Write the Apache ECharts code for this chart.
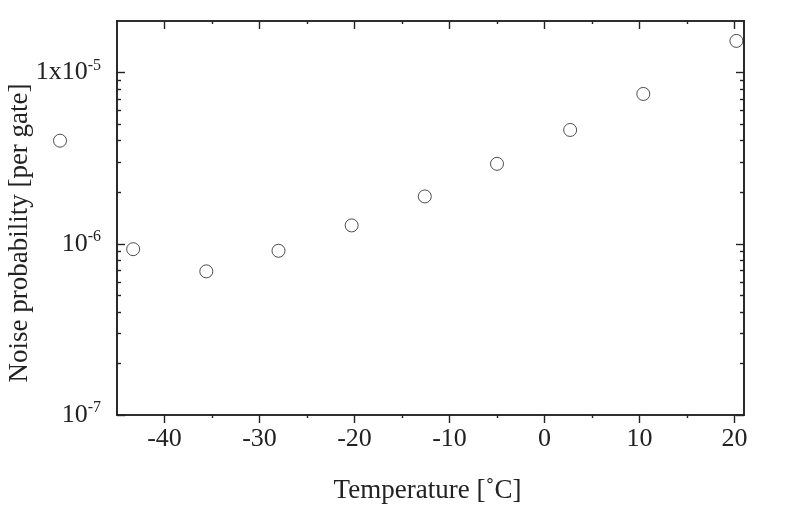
<!DOCTYPE html>
<html>
<head>
<meta charset="utf-8">
<script src="https://cdn.jsdelivr.net/npm/echarts@6/dist/echarts.min.js"></script>
<style>
  html, body { margin: 0; padding: 0; background: #fff; }
  #chart { width: 789px; height: 512px; }
</style>
</head>
<body>
<div id="chart"></div>
<script>
  // measured points: temperature [°C] and noise probability [per gate]
  const temperature = [-51, -43.3, -35.6, -28, -20.3, -12.6, -5, 2.7, 10.4, 20.2];
  const noiseProb = [4.0e-6, 9.3e-7, 6.9e-7, 9.1e-7, 1.28e-6, 1.89e-6, 2.93e-6, 4.62e-6, 7.5e-6, 1.53e-5];

  const xMajorTicks = [-40, -30, -20, -10, 0, 10, 20];
  const xMinorTicks = [-35, -25, -15, -5, 5, 15];
  const yMajorTicks = [1e-7, 1e-6, 1e-5];
  const yTickLabels = ['{b|10}{sup|-7}', '{b|10}{sup|-6}', '{b|1x10}{sup|-5}'];
  const yMinorTicks = [2e-7, 3e-7, 4e-7, 5e-7, 6e-7, 7e-7, 8e-7, 9e-7,
    2e-6, 3e-6, 4e-6, 5e-6, 6e-6, 7e-6, 8e-6, 9e-6];

  const font = 'Liberation Serif';
  const ink = '#222';

  function xAxisOf(position, ticks, len, inside, withLabels) {
    return {
      type: 'value', position: position, min: -45, max: 21,
      axisLine: { show: true, onZero: false, lineStyle: { color: ink, width: 1.6 } },
      axisTick: { show: true, customValues: ticks, length: len, inside: inside, lineStyle: { color: ink, width: 1.4 } },
      axisLabel: withLabels ? { show: true, customValues: ticks, margin: 11, color: ink, fontFamily: font, fontSize: 26 } : { show: false },
      splitLine: { show: false }
    };
  }
  function yAxisOf(position, ticks, len, withLabels) {
    return {
      type: 'log', logBase: 10, position: position, min: 1e-7, max: 2e-5,
      axisLine: { show: true, onZero: false, lineStyle: { color: ink, width: 1.6 } },
      axisTick: { show: true, customValues: ticks, length: len, inside: true, lineStyle: { color: ink, width: 1.4 } },
      axisLabel: withLabels ? {
        show: true, customValues: ticks, margin: 16, color: ink,
        formatter: function (v) {
          const i = yMajorTicks.findIndex(t => Math.abs(Math.log10(t) - Math.log10(v)) < 1e-6);
          return i >= 0 ? yTickLabels[i] : '';
        },
        rich: {
          b: { fontFamily: font, fontSize: 26, color: ink },
          sup: { fontFamily: font, fontSize: 16, color: ink, padding: [0, 0, 14, 0] }
        }
      } : { show: false },
      splitLine: { show: false }
    };
  }

  const xAxes = [
    xAxisOf('bottom', xMajorTicks, 8, false, true),
    xAxisOf('bottom', xMinorTicks, 3, false, false),
    xAxisOf('top', xMajorTicks, 8, true, false),
    xAxisOf('top', xMinorTicks, 3, true, false)
  ];
  xAxes[0].name = 'Temperature [˚C]';
  xAxes[0].nameLocation = 'middle';
  xAxes[0].nameGap = 62;
  xAxes[0].nameMoveOverlap = false;
  xAxes[0].nameTextStyle = { fontFamily: font, fontSize: 27, color: ink, padding: [0, 6, 0, 0] };

  const yAxes = [
    yAxisOf('left', yMajorTicks, 8, true),
    yAxisOf('left', yMinorTicks, 4, false),
    yAxisOf('right', yMajorTicks, 8, false),
    yAxisOf('right', yMinorTicks, 4, false)
  ];
  yAxes[0].name = 'Noise probability [per gate]';
  yAxes[0].nameLocation = 'middle';
  yAxes[0].nameGap = 84;
  yAxes[0].nameMoveOverlap = false;
  yAxes[0].nameTextStyle = { fontFamily: font, fontSize: 27, color: ink, padding: [0, 30, 0, 0] };

  const chart = echarts.init(document.getElementById('chart'));
  chart.setOption({
    animation: false,
    backgroundColor: '#fff',
    grid: { left: 117, right: 45, top: 21, bottom: 97, containLabel: false, outerBoundsMode: 'none' },
    xAxis: xAxes,
    yAxis: yAxes,
    series: [{
      type: 'scatter',
      xAxisIndex: 0,
      yAxisIndex: 0,
      clip: false,
      symbol: 'circle',
      symbolSize: 13,
      itemStyle: { color: 'rgba(255,255,255,0)', borderColor: ink, borderWidth: 1 },
      data: temperature.map((t, i) => [t, noiseProb[i]])
    }]
  });
</script>
</body>
</html>
